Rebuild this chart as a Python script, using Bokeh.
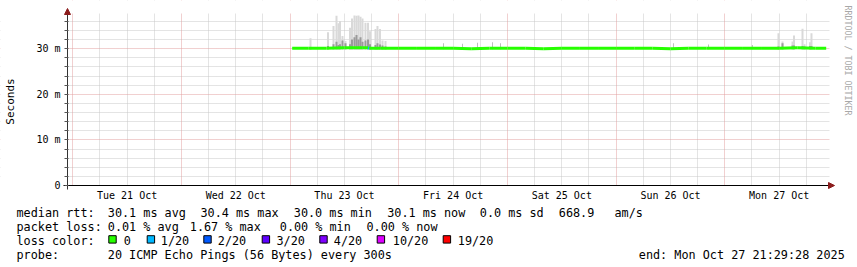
import math
from bokeh.plotting import figure
from bokeh.models import (FixedTicker, Grid, Arrow, NormalHead, BoxAnnotation, Range1d)
from bokeh.core.properties import value
from bokeh.embed import file_html
from bokeh.resources import INLINE

# ---------------- data (time = hours since Mon 20 Oct 2025 00:00) ----------------
day_names = ["Tue 21 Oct", "Wed 22 Oct", "Thu 23 Oct", "Fri 24 Oct",
             "Sat 25 Oct", "Sun 26 Oct", "Mon 27 Oct"]
day_start_h = [24, 48, 72, 96, 120, 144, 168]
y_tick_values = [0, 10, 20, 30]
y_tick_labels = ["0", "10 m", "20 m", "30 m"]

# median rtt (ms) and loss count per segment
med_t = [72.45, 76, 80, 84, 88, 89.2, 89.45, 92, 96, 100, 104, 108, 112, 116, 120,
         124, 128, 132, 136, 140, 144, 148, 152, 156, 160, 164, 168, 172, 176, 180,
         184, 188, 190.39]
med_ms = [30.1, 30.1, 30.1, 30.2, 30.2, 30.2, 30.1, 30.1, 30.1, 30.1, 30.1, 30.1,
          30.0, 30.1, 30.1, 30.1, 30.0, 30.1, 30.1, 30.1, 30.1, 30.1, 30.1, 30.0,
          30.1, 30.1, 30.1, 30.1, 30.1, 30.1, 30.2, 30.1, 30.1]
seg_loss = [0, 0, 0, 0, 0, 1, 0, 0, 0, 0, 0, 0, 0, 0, 0, 0, 0, 0, 0, 0, 0, 0, 0,
            0, 0, 0, 0, 0, 0, 0, 0, 0]

# smoke (spread of the 20 pings): max and an inner (darker) level
smoke_t = [76.50, 80.36, 81.58, 82.24, 82.68, 83.01, 83.56, 84.22, 85.22, 85.66,
           86.21, 86.66, 87.10, 87.54, 87.98, 88.64, 89.20, 89.64, 90.85, 91.29,
           91.84, 92.40, 93.06,
           179.85, 180.74, 182.95, 183.28, 185.16, 185.60, 186.82, 187.14]
smoke_max = [32.3, 33.6, 35.0, 37.2, 35.6, 36.1, 32.8, 31.7, 34.6, 36.6,
             37.3, 37.2, 37.3, 37.0, 36.6, 35.7, 35.7, 33.8, 34.3, 35.0,
             34.3, 31.8, 31.7,
             33.4, 31.6, 31.6, 32.9, 34.4, 31.0, 31.4, 33.4]
smoke_mid = [30.4, 30.6, 31.0, 31.5, 30.8, 31.0, 31.8, 31.2, 31.0, 32.0,
             32.5, 33.0, 32.0, 32.5, 31.5, 31.8, 32.0, 31.0, 30.8, 31.2,
             30.9, 30.7, 30.5,
             30.5, 31.2, 30.7, 30.7, 30.6, 30.5, 30.6, 30.6]
spike_t = [105.87, 110.06, 113.38, 116.69, 118.46, 156.66, 164.4, 174.1]
spike_max = [31.2, 31.1, 31.3, 31.4, 31.2, 31.2, 30.9, 30.8]

loss_levels = ["0", "1/20", "2/20", "3/20", "4/20", "10/20", "19/20"]
loss_counts = [0, 1, 2, 3, 4, 10, 19]
loss_colors = ["#26ff00", "#00b8ff", "#0059ff", "#5e00ff", "#7e00ff", "#dd00ff", "#ff0000"]

rtt_items = ["30.1 ms avg", "30.4 ms max", "30.0 ms min", "30.1 ms now",
             "0.0 ms sd", "668.9", "am/s"]
loss_items = ["0.01 % avg", "1.67 % max", "0.00 % min", "0.00 % now"]
probe_text = "20 ICMP Echo Pings (56 Bytes) every 300s"
end_text = "end: Mon Oct 27 21:29:28 2025"

# ---------------- styling / layout ----------------
MONO = "DejaVu Sans Mono"
GRID = "#c8c8c8"
MGRID = "#e3a0a0"
ARROW = "#8b1c1c"
W, H = 857, 267
X0, X1 = 22.83, 191.12          # visible time span of the graph area (hours)
Y1 = 37.72                      # top of graph area (ms)
FL, FR, FT, FB = 67, 829, 13, 185   # graph area edges in page pixels
PXH = (FR - FL) / (X1 - X0)
PXM = (FB - FT) / Y1


def dy(py):
    return (FB - py) / PXM


def dx(px):
    return X0 + (px - FL) / PXH


# the frame covers the whole page; axes are pinned to the graph area
p = figure(width=W, height=H,
           x_range=Range1d(dx(0), dx(W)), y_range=Range1d(dy(H), dy(0)),
           output_backend="svg", toolbar_location=None,
           min_border=0, min_border_left=0, min_border_right=0,
           min_border_top=0, min_border_bottom=0)
p.extra_x_ranges = {"px": Range1d(0, W)}
p.extra_y_ranges = {"px": Range1d(H, 0)}
p.outline_line_color = None
p.background_fill_color = "white"
p.border_fill_color = "white"
p.grid.visible = False

six_h = [h for h in range(30, 190, 6) if h % 24 != 0]
y_minor = [v for v in range(2, 38, 2) if v % 10 != 0]
for dim, ticks, col in [(0, six_h, GRID), (1, y_minor, GRID),
                        (0, day_start_h, MGRID), (1, [10, 20, 30], MGRID)]:
    p.add_layout(Grid(dimension=dim, ticker=FixedTicker(ticks=ticks),
                      grid_line_color=col, grid_line_dash="1 1", grid_line_width=1))
# keep the grid inside the graph area
for kw in (dict(right=X0), dict(left=X1), dict(bottom=Y1), dict(top=0)):
    p.add_layout(BoxAnnotation(fill_color="white", fill_alpha=1.0, line_alpha=0.0,
                               level="underlay", **kw))

noons = [d + 12 for d in day_start_h]
p.xaxis.ticker = FixedTicker(ticks=noons, minor_ticks=[])
p.xaxis.major_label_overrides = {n: s for n, s in zip(noons, day_names)}
p.xaxis.fixed_location = 0
p.xaxis.bounds = (dx(FL - 4), X1)
p.xaxis.major_tick_in = 0
p.xaxis.major_tick_out = 0
p.xaxis.minor_tick_in = 0
p.xaxis.minor_tick_out = 0
p.xaxis.axis_line_color = "#000000"
p.xaxis.major_label_standoff = 4

p.yaxis.ticker = FixedTicker(ticks=y_tick_values, minor_ticks=y_minor)
p.yaxis.major_label_overrides = {v: s for v, s in zip(y_tick_values, y_tick_labels)}
p.yaxis.fixed_location = X0
p.yaxis.bounds = (dy(FB + 4), Y1)
p.yaxis.major_tick_in = 1
p.yaxis.major_tick_out = 3
p.yaxis.minor_tick_in = 1
p.yaxis.minor_tick_out = 3
p.yaxis.major_tick_line_color = "#555555"
p.yaxis.minor_tick_line_color = "#555555"
p.yaxis.axis_line_color = "#333333"
p.yaxis.major_label_standoff = 4
p.yaxis.axis_label = "Seconds"
p.yaxis.axis_label_standoff = 16
p.yaxis.axis_label_text_font_style = "normal"
p.yaxis.axis_label_text_font = MONO
p.yaxis.axis_label_text_font_size = "11px"
p.yaxis.axis_label_text_color = "#000000"
for ax in (p.xaxis, p.yaxis):
    ax.major_label_text_font = MONO
    ax.major_label_text_font_size = "10px"
    ax.major_label_text_color = "#000000"

# smoke
p.vbar(x=smoke_t, width=0.44, bottom=29.9, top=smoke_max,
       fill_color="#d9d9d9", line_color=None)
p.vbar(x=smoke_t, width=0.44, bottom=29.9, top=smoke_mid,
       fill_color="#9a9a9a", line_color=None)
p.vbar(x=spike_t, width=0.22, bottom=29.9, top=spike_max,
       fill_color="#bdbdbd", line_color=None)

# median line coloured by loss
seg_colors = [loss_colors[loss_counts.index(l)] for l in seg_loss]
p.segment(x0=med_t[:-1], y0=med_ms[:-1], x1=med_t[1:], y1=med_ms[1:],
          line_color=seg_colors, line_width=3)

# axis arrows
p.add_layout(Arrow(end=NormalHead(size=6, fill_color=ARROW, line_color=ARROW),
                   x_start=X0, y_start=Y1, x_end=X0, y_end=dy(FT - 5),
                   line_color="#333333", line_width=1))
p.add_layout(Arrow(end=NormalHead(size=6, fill_color=ARROW, line_color=ARROW),
                   x_start=X1, y_start=0, x_end=dx(FR + 5), y_end=0,
                   line_color="#000000", line_width=1))

# ---------------- texts placed in page pixels ----------------
p.text(x=[847.5], y=[5], text=["RRDTOOL / TOBI OETIKER"], angle=-math.pi / 2,
       x_range_name="px", y_range_name="px", text_align="left",
       text_baseline="middle", text_font=value(MONO), text_font_size="8.3px",
       text_color="#a8a8a8")

rtt_x = [107.3, 200, 293.3, 386.7, 479.3, 558.3, 614]
loss_x = [107.3, 189.3, 279.3, 366]
sw_left = [108.3, 146.7, 203.3, 261.7, 319.3, 376.7, 442.7]
sw_text_x = [123.3, 160.3, 217.3, 276, 333.3, 392.3, 457.3]
BL = [212, 226, 240, 254]

tx = [16] + rtt_x + [16] + loss_x + [16] + sw_text_x + [16, 107.3, 638.3]
ty = ([BL[0]] * (1 + len(rtt_x)) + [BL[1]] * (1 + len(loss_x)) +
      [BL[2]] * (1 + len(sw_text_x)) + [BL[3]] * 3)
tt = (["median rtt:"] + rtt_items + ["packet loss:"] + loss_items +
      ["loss color:"] + loss_levels + ["probe:", probe_text, end_text])
p.text(x=tx, y=ty, text=tt, x_range_name="px", y_range_name="px",
       text_font=value(MONO), text_font_size="11.8px",
       text_baseline="alphabetic", text_align="left", text_color="#000000")
p.quad(left=sw_left, right=[l + 7.4 for l in sw_left],
       top=[235.2] * len(sw_left), bottom=[242.6] * len(sw_left),
       x_range_name="px", y_range_name="px",
       fill_color=loss_colors, line_color="#000000", line_width=1)

open("out.html", "w").write(file_html(p, INLINE))
